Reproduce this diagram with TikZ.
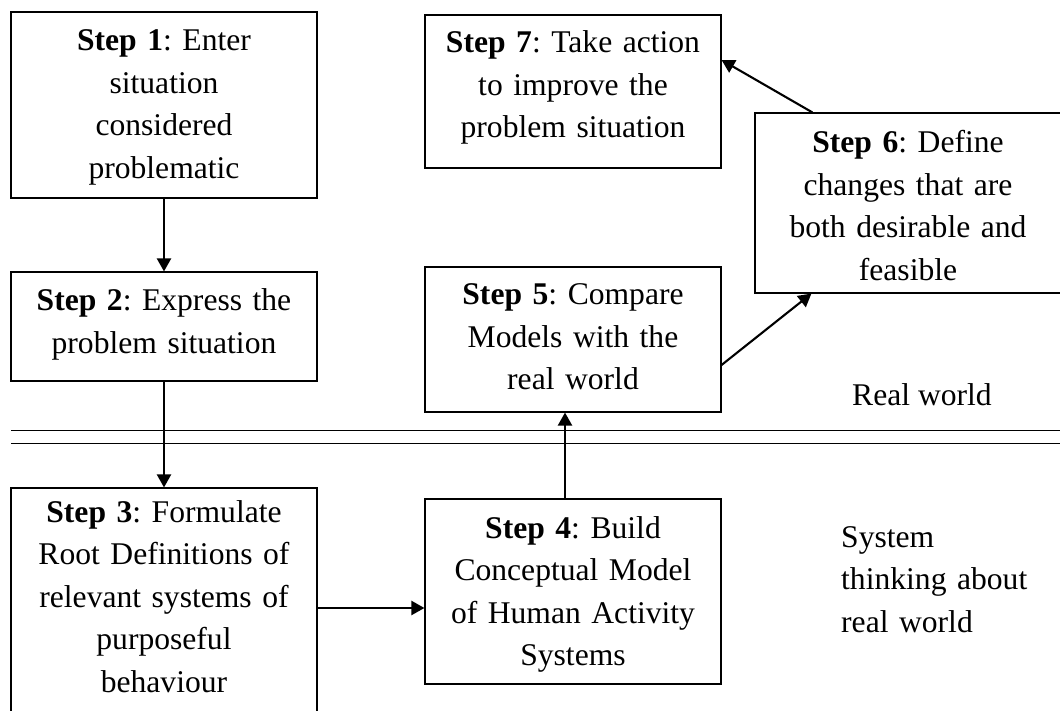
\documentclass[tikz,border=0pt]{standalone}
\usepackage{fontspec}
\setmainfont{Liberation Serif}
\usetikzlibrary{arrows.meta,calc}
\frenchspacing
\begin{document}
\begin{tikzpicture}[x=1pt,y=-1pt,
  stepbox/.style={draw, line width=1.1pt, inner sep=0pt},
  steptext/.style={text width=300pt, align=center, anchor=base, inner sep=0pt,
    font=\fontsize{31.6}{42.5}\selectfont},
  label/.style={inner sep=0pt, anchor=base, font=\fontsize{31.6}{42.5}\selectfont},
  flow/.style={line width=2.1pt, -{Triangle[length=13pt,width=14pt]}},
  divider/.style={line width=1pt}]
\useasboundingbox (0,0) rectangle (1060,711);

% boxes of the seven steps
\node[stepbox, minimum width=306pt, minimum height=186pt] (b1) at (164,105) {};
\node[stepbox, minimum width=306pt, minimum height=109pt] (b2) at (164,326.5) {};
\node[stepbox, minimum width=306pt, minimum height=240pt] (b3) at (164,608) {};
\node[stepbox, minimum width=296pt, minimum height=185pt] (b4) at (573,591.5) {};
\node[stepbox, minimum width=296pt, minimum height=145pt] (b5) at (573,339.5) {};
\node[stepbox, minimum width=306pt, minimum height=180pt] (b6) at (908,203) {};
\node[stepbox, minimum width=296pt, minimum height=153pt] (b7) at (573,91.5) {};

% texts, set from the top of each box
\node[steptext] (t1) at (164,51) {\textbf{Step 1}: Enter\\situation\\considered\\problematic};
\node[steptext] (t2) at (164,311) {\textbf{Step 2}: Express the\\problem situation};
\node[steptext] (t3) at (164,522) {\textbf{Step 3}: Formulate\\Root Definitions of\\relevant systems of\\purposeful\\behaviour};
\node[steptext] (t4) at (573,538) {\textbf{Step 4}: Build\\Conceptual Model\\of Human Activity\\Systems};
\node[steptext] (t5) at (573,305) {\textbf{Step 5}: Compare\\Models with the\\real world};
\node[steptext] (t6) at (908,153) {\textbf{Step 6}: Define\\changes that are\\both desirable and\\feasible};
\node[steptext] (t7) at (573,53) {\textbf{Step 7}: Take action\\to improve the\\problem situation};

% the two worlds
\coordinate (dl1) at (11,430);
\coordinate (dr1) at (1062,430);
\coordinate (dl2) at (11,443);
\coordinate (dr2) at (1062,443);
\draw[divider] (dl1) -- (dr1);
\draw[divider] (dl2) -- (dr2);
\node[label] (rw) at (922,405) {Real world};
\node[label, text width=220pt, align=left, anchor=base west] (st) at (841,547) {System\\thinking about\\real world};

% flow between the steps
\draw[flow] (b1.south) -- (b2.north);
\draw[flow] (b2.south) -- (b3.north);
\draw[flow] (b3.east) -- (b3.east -| b4.west);
\draw[flow] ([xshift=-8pt]b4.north) -- ([xshift=-8pt]b5.south);
\draw[flow] ([yshift=-25.5pt]b5.east) -- ([xshift=57pt]b6.south west);
\draw[flow] ([xshift=58pt]b6.north west) -- ([yshift=31.5pt]b7.east);
\end{tikzpicture}
\end{document}
